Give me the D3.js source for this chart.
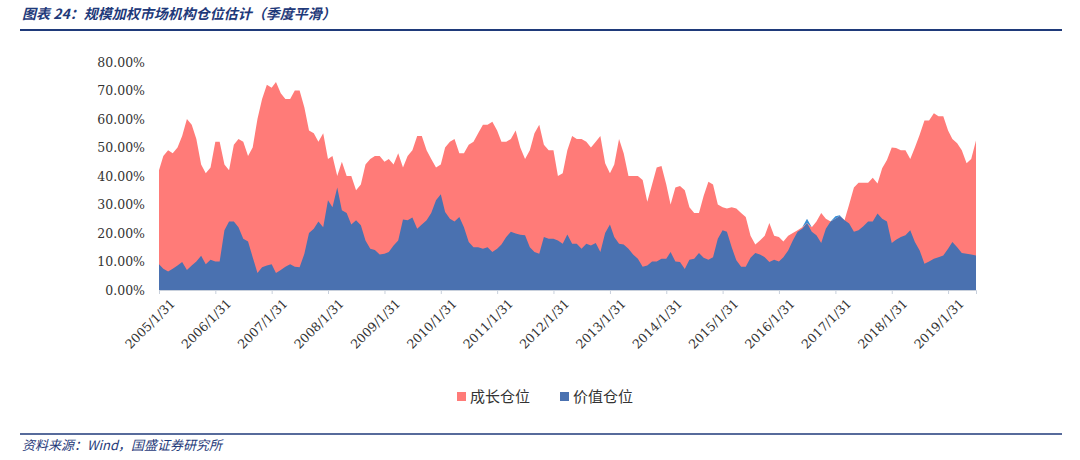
<!DOCTYPE html>
<html><head><meta charset="utf-8">
<script src="https://cdn.jsdelivr.net/npm/d3@7"></script>
<style>body{margin:0;background:#fff}svg{display:block}</style>
</head><body><svg id="c" width="1080" height="460"></svg>
<script>
const title = "图表 24：规模加权市场机构仓位估计（季度平滑）";
const source = "资料来源：Wind，国盛证券研究所";
const seriesNames = ["成长仓位", "价值仓位"];
const yTicks = [0,10,20,30,40,50,60,70,80];
const xTickYears = d3.range(2005, 2020);
const growth = [
42,47,49,48,50,54,60,58,53,44,41,43,
52,52,44,42,51,53,52,47,50,60,67,72,
71,73,69,67,67,70,70,64,56,55,52,55,
46,47,40,45,40,40,35,37,44,46,47,47,
45,46,44,48,43,47,49,54,54,49,46,43,
44,50,52,53,48,48,51,52,55,58,58,59,
56,52,52,53,56,50,46,49,55,58,51,49,
49,40,41,49,54,53,53,52,50,52,54,44.5,
41,44,53,48,40,40,40,38.6,31,37,43,43.5,
37,30,36,36.5,35,29,27,27,33,38,37,30,
29,28.6,29,28.6,27,25.6,19,16,17.4,19,23.5,19,
18.6,17,19,20,21,22,23.5,22,24,27,25,24,
25,26,24.5,30,36,37.6,37.6,37.6,39.4,37.4,42.7,45.6,
50,49.8,49,49,46,50,54.5,59.5,59.5,62,61,61,
56,53,51.5,49,44.5,46,52.5];
const value = [
9,7.5,6.5,7.5,8.6,9.8,7,8.6,10,12,9,10.6,
10,10,21,24,24,22,18,17,11.5,6,8,8.6,
9,6,7,8.2,9,8.2,8,12.7,20,21.5,24,22,
31.5,29,36,28,27,23,24.5,22.7,17.4,14.5,14,12.5,
12.7,13.3,15.6,17.4,24.7,24.5,25.4,21.5,23,24.5,27,31.5,
33.6,27.4,25,24,25.6,22,16.8,15,15,14.5,15,13.3,
14.5,16,18.6,20.4,19.8,19.4,19.2,15,13.3,12.7,18.6,18,
18,17.4,16.2,19.5,16.2,16.2,14.5,16.2,15.6,16.5,13.3,20,
23,18.6,16.2,16,14.5,12.5,11,8.2,8.6,10,10,11,
11,13.3,10,9.8,7.4,10.6,11,13,11.3,10.6,11.5,18,
21,20.4,15,10.4,8.2,8.2,11.3,13,12.5,11.5,9.8,10.6,
10,11.5,13.9,17.4,20.4,21.5,25,20.4,19.2,16.5,21.5,24,
25.9,26.2,24.5,23.3,20.4,21,22.4,24,24,26.8,25,24,
16.5,17.6,18.6,19.2,21,16.8,13.9,9.2,10,11,11.5,12.1,
14.5,16.8,15,13,12.7,12.5,12.1];

const monthEnd = i => new Date(2005, i + 1, 0);
const data = growth.map((g, i) => ({d: monthEnd(i), g, v: value[i]}));
const svg = d3.select("#c");
const navy = "#1f3a7a";
const x = d3.scaleTime().domain([new Date(2005,0,31), new Date(2019,6,31)]).range([159, 976]);
const y = d3.scaleLinear().domain([0, 80]).range([290, 62]);

// header / footer
svg.append("text").attr("x", 22).attr("y", 19).attr("fill", navy)
  .attr("font-family", "Noto Sans CJK SC").attr("font-size", 14).attr("font-weight", "bold")
  .attr("font-style", "italic").text(title);
svg.append("line").attr("x1", 20).attr("x2", 1062).attr("y1", 30).attr("y2", 30).attr("stroke", navy).attr("stroke-width", 2);
svg.append("line").attr("x1", 20).attr("x2", 1062).attr("y1", 434).attr("y2", 434).attr("stroke", navy).attr("stroke-width", 1.5);
svg.append("text").attr("x", 22).attr("y", 450).attr("fill", navy)
  .attr("font-family", "Noto Sans CJK SC").attr("font-size", 13).attr("font-style", "italic").text(source);

const red = "#ff7b78", blue = "#4a71b0", lblue = "#3b8fd5";
svg.append("path").datum(data).attr("fill", red)
  .attr("d", d3.area().x(d => x(d.d)).y0(y(0)).y1(d => y(d.g)));
svg.append("path").datum(data).attr("fill", blue)
  .attr("d", d3.area().x(d => x(d.d)).y0(y(0)).y1(d => y(Math.min(d.v, d.g))));
svg.append("path").datum(data).attr("fill", lblue)
  .attr("d", d3.area().x(d => x(d.d)).y0(d => y(d.g)).y1(d => y(Math.max(d.v, d.g))));

// y axis
const ya = svg.append("g").attr("transform", "translate(150,0)")
  .call(d3.axisLeft(y).tickValues(yTicks).tickSize(0).tickFormat(d => d3.format(".2f")(d) + "%"));
ya.select(".domain").remove();
ya.selectAll("text").attr("font-family", "DejaVu Serif").attr("font-size", 12.5).attr("fill", "#333").attr("dx", -2);

// x axis
const xa = svg.append("g").attr("transform", `translate(0,${y(0)})`)
  .call(d3.axisBottom(x).tickValues(xTickYears.map(yr => new Date(yr, 0, 31))).tickSize(4)
    .tickFormat(d => d3.timeFormat("%Y/%-m/%-d")(d)));
xa.select(".domain").attr("stroke", "#c8d0dc");
xa.selectAll(".tick line").attr("stroke", "#c8d0dc");
xa.selectAll("text").attr("font-family", "DejaVu Serif").attr("font-size", 12.5).attr("fill", "#333")
  .attr("text-anchor", "end").attr("transform", "translate(6,4) rotate(-45)").attr("dy", "0.6em");

// legend
const lg = svg.append("g").attr("font-family", "Noto Sans CJK SC").attr("font-size", 15).attr("fill", "#333");
[[red, seriesNames[0], 457], [blue, seriesNames[1], 560]].forEach(([c, t, lx]) => {
  lg.append("rect").attr("x", lx).attr("y", 392).attr("width", 9).attr("height", 9).attr("fill", c);
  lg.append("text").attr("x", lx + 13).attr("y", 402).text(t);
});
</script></body></html>
